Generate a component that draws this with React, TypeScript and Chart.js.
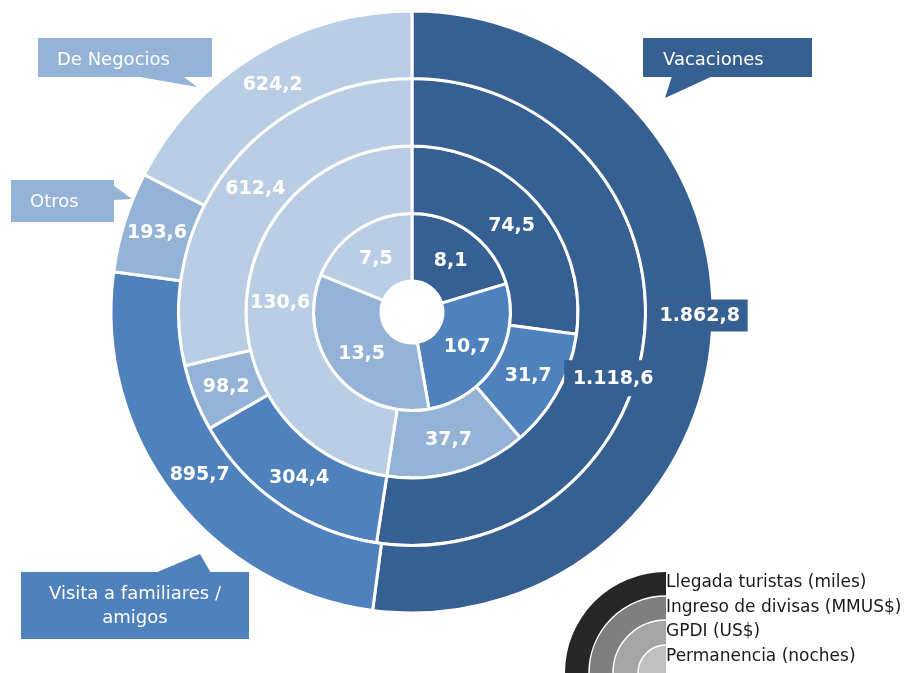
import React, { useEffect, useRef } from 'react';
import { Chart, registerables } from 'chart.js';

Chart.register(...registerables);

// ---- data ----
const categories = ['Vacaciones', 'Visita a familiares / amigos', 'Otros', 'De Negocios'];
const seriesNames = ['Llegada turistas (miles)', 'Ingreso de divisas (MMUS$)', 'GPDI (US$)', 'Permanencia (noches)'];
const llegadaTuristas = [1862.8, 895.7, 193.6, 624.2];
const ingresoDivisas = [1118.6, 304.4, 98.2, 612.4];
const gpdiUSD = [74.5, 31.7, 37.7, 130.6];
const permanenciaNoches = [8.1, 10.7, 13.5, 7.5];

// ---- styles ----
const categoryColors = ['#376092', '#4F81BD', '#95B3D7', '#B9CDE5'];
const legendColors = ['#262626', '#7F7F7F', '#A5A5A5', '#BFBFBF'];
const FONT = '"DejaVu Sans", Verdana, sans-serif';

// labels that get a filled box and a nudge from their centroid
const labelBoxes = [
  { dataset: 0, index: 0, dx: 21, dy: -14, w: 96, h: 32 },
  { dataset: 1, index: 0, dx: 2, dy: 51, w: 98, h: 36 },
];

// category callouts (annotation boxes)
const callouts = [
  { text: ['De Negocios'], color: '#95B3D7', box: [38, 38, 174, 39], ptr: [[140, 77], [184, 77], [197, 87]], tx: 57, ty: 60, align: 'left' },
  { text: ['Otros'], color: '#95B3D7', box: [11, 180, 103, 42], ptr: [[113, 185], [132, 199], [113, 200]], tx: 30, ty: 202, align: 'left' },
  { text: ['Vacaciones'], color: '#376092', box: [643, 38, 169, 39], ptr: [[672, 76], [713, 76], [665, 98]], tx: 663, ty: 60, align: 'left' },
  { text: ['Visita a familiares /', 'amigos'], color: '#4F81BD', box: [21, 572, 228, 67], ptr: [[155, 573], [211, 573], [200, 554]], tx: 135, ty: 594, align: 'center' },
];

function fmt(v: number): string {
  const [i, d] = v.toFixed(1).split('.');
  return i.replace(/\B(?=(\d{3})+(?!\d))/g, '.') + ',' + d;
}

const overlayPlugin = {
  id: 'overlay',
  afterDatasetsDraw(chart: any) {
    const ctx: CanvasRenderingContext2D = chart.ctx;
    ctx.save();
    // value labels
    chart.data.datasets.forEach((ds: any, di: number) => {
      const meta = chart.getDatasetMeta(di);
      meta.data.forEach((arc: any, j: number) => {
        const p = arc.tooltipPosition(true);
        let x = p.x;
        let y = p.y;
        const b = labelBoxes.find((lb) => lb.dataset === di && lb.index === j);
        if (b) {
          x += b.dx;
          y += b.dy;
          ctx.fillStyle = categoryColors[j];
          ctx.fillRect(x - b.w / 2, y - b.h / 2, b.w, b.h);
        }
        ctx.font = 'bold 19px ' + FONT;
        ctx.fillStyle = '#ffffff';
        ctx.textAlign = 'center';
        ctx.textBaseline = 'middle';
        ctx.fillText(fmt(ds.data[j]), x, y + 1);
      });
    });

    // callouts
    callouts.forEach((c) => {
      ctx.fillStyle = c.color;
      const [bx, by, bw, bh] = c.box;
      ctx.fillRect(bx, by, bw, bh);
      ctx.beginPath();
      ctx.moveTo(c.ptr[0][0], c.ptr[0][1]);
      for (let k = 1; k < c.ptr.length; k++) ctx.lineTo(c.ptr[k][0], c.ptr[k][1]);
      ctx.closePath();
      ctx.fill();
      ctx.font = '18px ' + FONT;
      ctx.fillStyle = '#ffffff';
      ctx.textAlign = c.align as CanvasTextAlign;
      ctx.textBaseline = 'middle';
      c.text.forEach((t, k) => ctx.fillText(t, c.tx, c.ty + k * 24));
    });

    // legend: concentric quarter arcs
    const cx = 666;
    const cy = 673;
    const radii = [101, 77, 53, 28];
    ctx.save();
    ctx.beginPath();
    ctx.rect(0, 0, cx, cy);
    ctx.clip();
    radii.forEach((r, k) => {
      ctx.beginPath();
      ctx.moveTo(cx, cy);
      ctx.arc(cx, cy, r, Math.PI, Math.PI * 1.5);
      ctx.closePath();
      ctx.fillStyle = legendColors[k];
      ctx.fill();
      if (k > 0) {
        ctx.beginPath();
        ctx.arc(cx, cy, r, Math.PI, Math.PI * 1.5);
        ctx.strokeStyle = '#ffffff';
        ctx.lineWidth = 1.5;
        ctx.stroke();
      }
    });
    ctx.restore();
    const rowsY = [583, 608, 632, 657];
    ctx.font = '17px ' + FONT;
    ctx.fillStyle = '#1a1a1a';
    ctx.textAlign = 'left';
    ctx.textBaseline = 'middle';
    seriesNames.forEach((n, k) => ctx.fillText(n, cx, rowsY[k]));
    ctx.restore();
  },
};

export default function App() {
  const ref = useRef<HTMLCanvasElement | null>(null);
  useEffect(() => {
    if (!ref.current) return;
    const seriesData = [llegadaTuristas, ingresoDivisas, gpdiUSD, permanenciaNoches];
    const chart = new Chart(ref.current, {
      type: 'doughnut',
      data: {
        labels: categories,
        datasets: seriesData.map((d, i) => ({
          label: seriesNames[i],
          data: d,
          backgroundColor: categoryColors,
          borderColor: '#ffffff',
          borderWidth: 3,
          hoverOffset: 0,
        })),
      },
      options: {
        responsive: false,
        animation: false,
        events: [],
        radius: 301,
        cutout: '10.3%',
        layout: { padding: { left: 107, right: 191, top: 7, bottom: 56 } },
        plugins: { legend: { display: false }, tooltip: { enabled: false } },
      } as any,
      plugins: [overlayPlugin],
    });
    return () => chart.destroy();
  }, []);
  return (
    <div style={{ position: 'absolute', left: 0, top: 0, width: 908, height: 673, background: '#fff' }}>
      <canvas ref={ref} width={908} height={673} style={{ width: 908, height: 673, display: 'block' }} />
    </div>
  );
}
